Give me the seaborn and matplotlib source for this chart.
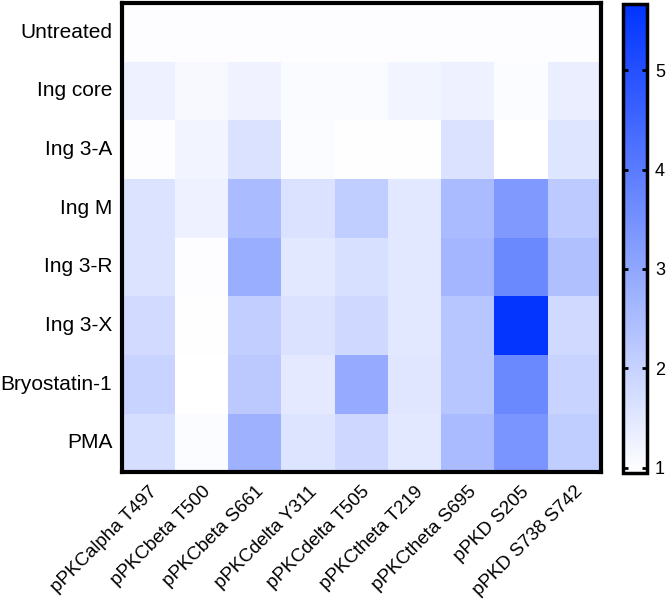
import numpy as np
import pandas as pd
import matplotlib
matplotlib.use("Agg")
import matplotlib.pyplot as plt
import seaborn as sns
from matplotlib.colors import LinearSegmentedColormap

# treatments (rows) and phospho-sites (columns)
treatments = ["Untreated", "Ing core", "Ing 3-A", "Ing M", "Ing 3-R",
              "Ing 3-X", "Bryostatin-1", "PMA"]
sites = ["pPKCalpha T497", "pPKCbeta T500", "pPKCbeta S661", "pPKCdelta Y311",
         "pPKCdelta T505", "pPKCtheta T219", "pPKCtheta S695", "pPKD S205",
         "pPKD S738 S742"]

# fold change vs untreated
untreated = [1.0, 1.0, 1.0, 1.0, 1.0, 1.0, 1.0, 1.0, 1.0]
ing_core = [1.27, 1.08, 1.23, 1.05, 1.05, 1.2, 1.27, 1.04, 1.34]
ing_3a = [1.0, 1.2, 1.63, 1.04, 0.97, 0.97, 1.63, 0.95, 1.56]
ing_m = [1.6, 1.27, 2.52, 1.63, 2.12, 1.49, 2.52, 3.3, 2.17]
ing_3r = [1.6, 1.0, 2.82, 1.49, 1.67, 1.49, 2.64, 3.69, 2.41]
ing_3x = [1.78, 0.97, 2.08, 1.63, 1.84, 1.49, 2.26, 5.6, 1.82]
bryostatin = [1.97, 0.95, 2.22, 1.45, 2.9, 1.53, 2.26, 3.69, 1.97]
pma = [1.71, 1.04, 2.74, 1.58, 1.88, 1.49, 2.52, 3.41, 2.12]

cbar_ticks = [1, 2, 3, 4, 5]

data = pd.DataFrame([untreated, ing_core, ing_3a, ing_m, ing_3r,
                     ing_3x, bryostatin, pma], index=treatments, columns=sites)

plt.rcParams['font.family'] = ['Liberation Sans', 'DejaVu Sans']

cmap = LinearSegmentedColormap.from_list("wb", ["#FFFFFF", "#0033FF"])

fig = plt.figure(figsize=(6.66, 6.03), dpi=100)
ax = fig.add_axes([0.183, 0.217, 0.719, 0.778])
cax = fig.add_axes([0.935, 0.216, 0.036, 0.778])

sns.heatmap(data, ax=ax, cbar_ax=cax, cmap=cmap, vmin=0.95, vmax=5.67,
            cbar_kws={"ticks": cbar_ticks})

ax.tick_params(axis="y", length=0, labelsize=15, pad=7)
ax.tick_params(axis="x", length=0, labelsize=13.5, pad=8)
ax.set_xticklabels(sites, rotation=45, ha="right", rotation_mode="anchor")
ax.set_yticklabels(treatments, rotation=0)
for s in ax.spines.values():
    s.set_visible(True)
    s.set_linewidth(3)
    s.set_color("black")

cbar = ax.collections[0].colorbar
cbar.outline.set_linewidth(2.5)
cbar.outline.set_edgecolor("black")
cax.tick_params(direction="in", length=3.5, width=2, left=True, right=True,
                labelsize=13, pad=6)

fig.savefig("out.png", dpi=100)
